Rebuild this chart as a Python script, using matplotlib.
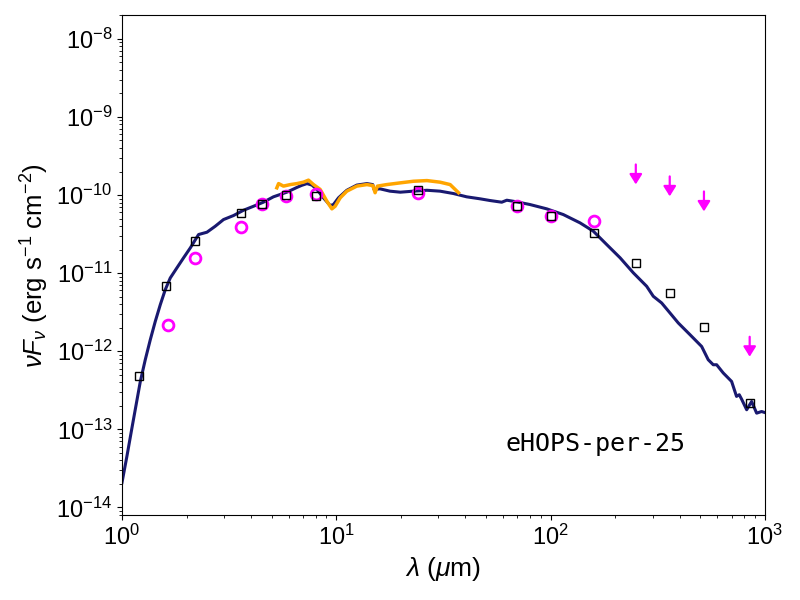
import matplotlib
matplotlib.use("Agg")
import matplotlib.pyplot as plt
import numpy as np

plt.rcParams['font.family'] = ['Liberation Sans', 'DejaVu Sans']
plt.rcParams['mathtext.fontset'] = 'custom'
plt.rcParams['mathtext.rm'] = 'Liberation Sans'
plt.rcParams['mathtext.it'] = 'Liberation Sans:italic'
plt.rcParams['mathtext.bf'] = 'Liberation Sans:bold'

# Model SED (microns, erg s^-1 cm^-2)
model_wav = [1.0, 1.055, 1.113, 1.166, 1.217, 1.284, 1.355, 1.430, 1.509, 1.592,
             1.680, 1.805, 1.938, 2.083, 2.277, 2.492, 2.723, 2.977, 3.315, 3.69,
             4.11, 4.57, 5.09, 5.88, 6.55, 6.9, 7.3, 7.7, 8.12, 8.71,
             9.37, 9.70, 10.24, 11.2, 12.47, 13.9, 14.8, 15.0, 16.0, 17.8,
             19.9, 22.9, 26.5, 30.5, 35.2, 40.6, 46.9, 52.2, 59.2, 62.5,
             69.5, 80.2, 96, 114.7, 137.3, 158.4, 182.9, 211.2, 243.3, 281,
             301.7, 330, 360.9, 394.6, 447.4, 507.3, 544.5, 574.6, 596, 640,
             700, 738, 760, 779, 823, 868, 916, 966, 1000]
model_flux = [2.08e-14, 4.57e-14, 1.045e-13, 2.12e-13, 4.07e-13, 7.78e-13, 1.40e-12, 2.41e-12, 3.94e-12, 6.14e-12,
              8.67e-12, 1.17e-11, 1.57e-11, 2.10e-11, 3.12e-11, 3.34e-11, 3.98e-11, 4.85e-11, 5.46e-11, 6.38e-11,
              7.18e-11, 8.09e-11, 9.48e-11, 1.087e-10, 1.25e-10, 1.33e-10, 1.40e-10, 1.34e-10, 1.18e-10, 9.2e-11,
              7.33e-11, 7.55e-11, 9.2e-11, 1.15e-10, 1.34e-10, 1.40e-10, 1.36e-10, 1.18e-10, 1.20e-10, 1.12e-10,
              1.087e-10, 1.12e-10, 1.15e-10, 1.12e-10, 1.045e-10, 9.48e-11, 8.94e-11, 8.5e-11, 8.09e-11, 8.58e-11,
              8.18e-11, 7.55e-11, 6.65e-11, 5.62e-11, 4.40e-11, 3.44e-11, 2.32e-11, 1.57e-11, 1.01e-11, 6.78e-12,
              5.05e-12, 4.15e-12, 3.09e-12, 2.30e-12, 1.63e-12, 1.15e-12, 7.78e-13, 6.71e-13, 6.71e-13, 5.26e-13,
              4.10e-13, 2.64e-13, 2.77e-13, 2.44e-13, 1.78e-13, 2.27e-13, 1.61e-13, 1.69e-13, 1.64e-13]

# IRS spectrum
irs_wav = [5.28, 5.38, 5.67, 6.10, 6.55, 7.03, 7.42, 7.83, 8.41, 9.04,
           9.54, 9.88, 10.43, 11.2, 12.47, 13.9, 14.82, 15.18, 15.56, 17.2,
           19.86, 22.9, 26.5, 30.5, 34.0, 37.2]
irs_flux = [1.236e-10, 1.40e-10, 1.30e-10, 1.36e-10, 1.40e-10, 1.46e-10, 1.55e-10, 1.36e-10, 1.18e-10, 8.33e-11,
            6.65e-11, 7.18e-11, 9.2e-11, 1.12e-10, 1.30e-10, 1.36e-10, 1.32e-10, 1.07e-10, 1.30e-10, 1.36e-10,
            1.43e-10, 1.50e-10, 1.53e-10, 1.46e-10, 1.36e-10, 1.07e-10]

# Observed photometry (magenta circles)
obs_wav = [1.64, 2.18, 3.6, 4.5, 5.8, 8.0, 24, 70, 100, 160]
obs_flux = [2.19e-12, 1.57e-11, 3.91e-11, 7.7e-11, 9.85e-11, 1.02e-10, 1.05e-10, 7.18e-11, 5.46e-11, 4.71e-11]

# Upper limits (magenta arrows)
lim_wav = [250, 360, 520, 850]
lim_flux = [2.46e-10, 1.73e-10, 1.11e-10, 1.53e-12]
arrow_factor = 1.8

# Model photometry (black squares)
mod_wav = [1.2, 1.6, 2.2, 3.6, 4.5, 5.8, 8.0, 24, 70, 100, 160, 250, 360, 520, 850]
mod_flux = [4.85e-13, 6.9e-12, 2.61e-11, 5.91e-11, 7.71e-11, 9.94e-11, 9.85e-11, 1.15e-10,
            7.18e-11, 5.35e-11, 3.27e-11, 1.35e-11, 5.57e-12, 2.04e-12, 2.17e-13]

fig = plt.figure(figsize=(8, 6), dpi=100)
ax = fig.add_axes([0.1525, 0.1417, 0.8035, 0.8328])

ax.plot(model_wav, model_flux, color='#191970', lw=2.2, zorder=2)
ax.plot(irs_wav, irs_flux, color='#FFA500', lw=2.5, zorder=3)
ax.plot(obs_wav, obs_flux, 'o', color='#FF00FF', mfc='none', ms=7.8, mew=2.0, zorder=4)
for lw_, lf in zip(lim_wav, lim_flux):
    ax.annotate('', xy=(lw_, lf / arrow_factor), xytext=(lw_, lf),
                arrowprops=dict(arrowstyle='-|>,head_length=0.4,head_width=0.25',
                                color='#FF00FF', lw=1.6, shrinkA=0, shrinkB=0,
                                mutation_scale=15), zorder=4)
ax.plot(mod_wav, mod_flux, 's', color='black', mfc='none', ms=5.3, mew=1.0, zorder=5)

ax.set_xscale('log')
ax.set_yscale('log')
ax.set_xlim(1, 1000)
ax.set_ylim(8e-15, 2e-8)

ax.set_xlabel(r'$\lambda$ ($\mu$m)', fontsize=19)
ax.set_ylabel(r'$\nu F_\nu$ (erg s$^{-1}$ cm$^{-2}$)', fontsize=18.5)
ax.tick_params(axis='both', which='major', labelsize=17)

ax.text(0.596, 0.129, 'eHOPS-per-25', transform=ax.transAxes,
        fontsize=18, family='DejaVu Sans Mono', va='baseline', ha='left')

fig.savefig('out.png', dpi=100)
